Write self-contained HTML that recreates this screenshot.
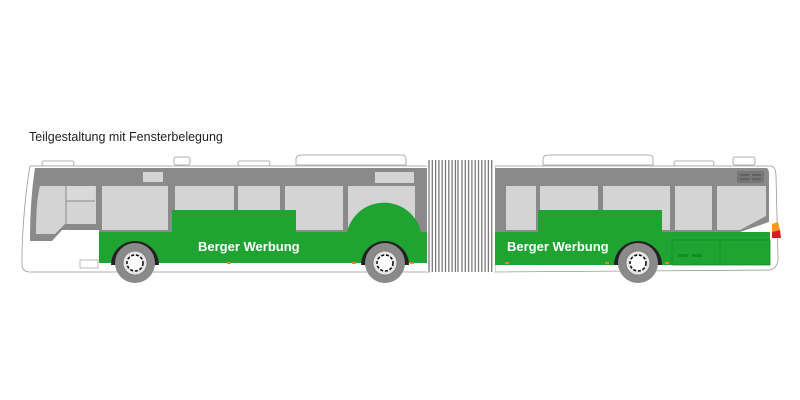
<!DOCTYPE html>
<html><head><meta charset="utf-8"><style>
html,body{margin:0;padding:0;background:#fff;}
svg{display:block;}
text{font-family:"Liberation Sans",sans-serif;}
</style></head><body>
<svg width="800" height="400" viewBox="0 0 800 400" xmlns="http://www.w3.org/2000/svg">
<rect width="800" height="400" fill="#fff"/>
<text x="29" y="141" font-size="12.5" fill="#222">Teilgestaltung mit Fensterbelegung</text>

<g fill="#fff" stroke="#999" stroke-width="0.8">
<rect x="42" y="161" width="32" height="5" rx="2"/>
<rect x="174" y="157" width="16" height="8" rx="2"/>
<rect x="238" y="161" width="32" height="5" rx="2"/>
<path d="M296 165 L296 159 Q296 155 302 155 L402 155 Q406 155 406 159 L406 165 Z"/>
<path d="M543 165 L543 159 Q543 155 549 155 L649 155 Q653 155 653 159 L653 165 Z"/>
<rect x="674" y="161" width="40" height="5" rx="2"/>
<rect x="733" y="157" width="22" height="8" rx="2"/>
</g>

<path d="M30 166 L430 166 L430 272 L30 272 Q22 272 22 264 L22 250 Q24 200 30 166 Z" fill="#fff" stroke="#999" stroke-width="0.8"/>
<path d="M495 166 L770 166 Q776 166 776 176 L778 258 Q778 268 770 270 L495 272 Z" fill="#fff" stroke="#999" stroke-width="0.8"/>

<path d="M35 168 L430 168 L430 232 L99 232 L99 230 L62 230 L52 241 L30 241 Q30 200 35 168 Z" fill="#8a8a8a"/>
<path d="M495 168 L766 168 Q769 168 769 174 L769 222 L740 232 L495 232 Z" fill="#8a8a8a"/>

<g fill="#d4d4d4">
<path d="M40 186 L96 186 L96 224 L65 224 L55 234 L36 234 Q36 200 40 186 Z"/>
<rect x="66" y="186" width="28" height="14" fill="#d9d9d9"/>
<rect x="102" y="186" width="66" height="44"/>
<rect x="175" y="186" width="59" height="44"/>
<rect x="238" y="186" width="42" height="44"/>
<rect x="285" y="186" width="58" height="44"/>
<rect x="348" y="186" width="67" height="44"/>
<rect x="143" y="172" width="20" height="10"/>
<rect x="375" y="172" width="39" height="11"/>
<rect x="506" y="186" width="30" height="44"/>
<rect x="540" y="186" width="58" height="44"/>
<rect x="603" y="186" width="67" height="44"/>
<rect x="675" y="186" width="37" height="44"/>
<path d="M717 186 L766 186 L766 216 L740 230 L717 230 Z"/>
</g>
<line x1="66" y1="201" x2="95" y2="201" stroke="#8a8a8a" stroke-width="1"/>
<line x1="66" y1="186" x2="66" y2="224" stroke="#8a8a8a" stroke-width="1"/>
<rect x="737" y="171" width="27" height="12" fill="#777" rx="2"/>
<g stroke="#555" stroke-width="1.2"><line x1="740" y1="175" x2="749" y2="175"/><line x1="740" y1="179" x2="749" y2="179"/><line x1="752" y1="175" x2="761" y2="175"/><line x1="752" y1="179" x2="761" y2="179"/></g>

<g fill="#1fa331">
<rect x="99" y="232" width="331" height="31"/>
<rect x="172" y="210" width="124" height="22"/>
<path d="M347 232 A38 38 0 0 1 421 232 Z"/>
<rect x="495" y="232" width="275" height="33"/>
<rect x="538" y="210" width="124" height="22"/>
</g>
<g fill="none" stroke="#178a28" stroke-width="0.8">
<rect x="672" y="240" width="98" height="25"/>
<line x1="720" y1="240" x2="720" y2="265"/>
</g>
<g fill="#178a28"><rect x="678" y="254" width="10" height="3"/><rect x="692" y="254" width="10" height="3"/></g>
<path d="M772 224 L778 222 L780 230 L772 232 Z" fill="#f39a1e"/>
<path d="M772 232 L780 230 L781 238 L772 238 Z" fill="#d21f26"/>

<text x="198" y="251" font-size="13" font-weight="bold" fill="#fff">Berger Werbung</text>
<text x="507" y="251" font-size="13" font-weight="bold" fill="#fff">Berger Werbung</text>

<g fill="#e88a1a"><rect x="227" y="262" width="4" height="2"/><rect x="352" y="262" width="4" height="2"/><rect x="410" y="262" width="4" height="2"/><rect x="505" y="262" width="4" height="2"/><rect x="605" y="262" width="4" height="2"/><rect x="665" y="262" width="4" height="2"/></g>
<rect x="80" y="260" width="18" height="8" fill="#fff" stroke="#aaa" stroke-width="0.8"/>

<rect x="427" y="160" width="68" height="112" fill="#fff"/>
<g stroke="#7a7a7a" stroke-width="1.3">
<line x1="429" y1="160" x2="429" y2="272"/><line x1="432.3" y1="160" x2="432.3" y2="272"/><line x1="435.6" y1="160" x2="435.6" y2="272"/><line x1="438.9" y1="160" x2="438.9" y2="272"/><line x1="442.2" y1="160" x2="442.2" y2="272"/><line x1="445.5" y1="160" x2="445.5" y2="272"/><line x1="448.8" y1="160" x2="448.8" y2="272"/><line x1="452.1" y1="160" x2="452.1" y2="272"/><line x1="455.4" y1="160" x2="455.4" y2="272"/><line x1="458" y1="160" x2="458" y2="272"/>
<line x1="462" y1="160" x2="462" y2="272"/><line x1="465.3" y1="160" x2="465.3" y2="272"/><line x1="468.6" y1="160" x2="468.6" y2="272"/><line x1="471.9" y1="160" x2="471.9" y2="272"/><line x1="475.2" y1="160" x2="475.2" y2="272"/><line x1="478.5" y1="160" x2="478.5" y2="272"/><line x1="481.8" y1="160" x2="481.8" y2="272"/><line x1="485.1" y1="160" x2="485.1" y2="272"/><line x1="488.4" y1="160" x2="488.4" y2="272"/><line x1="491.7" y1="160" x2="491.7" y2="272"/>
</g>

<g id="w">
<path d="M111 265 A24 24 0 0 1 159 265 Z" fill="#222"/>
<circle cx="135" cy="263" r="20" fill="#8a8a8a"/>
<circle cx="135" cy="263" r="12" fill="#e6e6e6" stroke="#777" stroke-width="0.8"/>
<circle cx="135" cy="263" r="8" fill="#fff" stroke="#111" stroke-width="1.6" stroke-dasharray="3 1.8"/>
</g>
<use href="#w" transform="translate(250 0)"/>
<use href="#w" transform="translate(503 0)"/>
</svg>
</body></html>
